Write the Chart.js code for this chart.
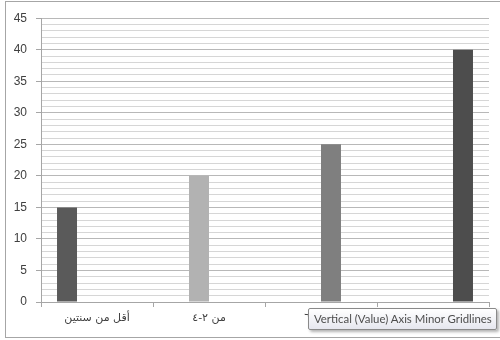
<!DOCTYPE html>
<html>
<head>
<meta charset="utf-8">
<script src="https://cdn.jsdelivr.net/npm/chart.js@4.4.1/dist/chart.umd.min.js"></script>
<style>
  html, body { margin: 0; padding: 0; background: #fff; }
  body { width: 500px; height: 340px; overflow: hidden; position: relative; }
  .frame {
    position: absolute; left: 5px; top: 1px;
    width: 500px; height: 335px;
    border: 1px solid #a6a6a6;
  }
  .frame canvas { display: block; }
  .hint {
    position: absolute; left: 308px; top: 308px;
    height: 20px; padding: 0 4px 0 5px;
    border: 1px solid #8a8a8a; border-radius: 2px;
    background: linear-gradient(#ffffff, #e6e7ef);
    box-shadow: 2px 2px 3px rgba(0, 0, 0, 0.3);
    font: 11.4px Lato, "Liberation Sans", sans-serif;
    line-height: 20px; color: #4d4d4d; white-space: nowrap;
  }
</style>
</head>
<body>
<div class="frame"><canvas id="chart" width="494" height="335"></canvas></div>
<div class="hint">Vertical (Value) Axis Minor Gridlines</div>
<script>
// categories and their values (one series per category, Excel-style clustered)
const categories = ['أقل من سنتين', 'من ٢-٤', 'من ٤-٦', 'أكثر من ٦'];
const values = [15, 20, 25, 40];
const barColors = ['#5a5a5a', '#b2b2b2', '#7f7f7f', '#4d4d4d'];

// value axis: labels every 5, minor gridlines every 1
const yMin = 0;
const yMax = 45;
const majorStep = 5;
const minorStep = 1;

const datasets = categories.map((name, i) => ({
  label: name,
  data: categories.map((_, j) => (j === i ? values[i] : null)),
  backgroundColor: barColors[i],
  borderWidth: 0,
  barPercentage: 1,
  categoryPercentage: 0.714,
}));

const isMajor = (v) => v % majorStep === 0;

const ctx = document.getElementById('chart').getContext('2d');
new Chart(ctx, {
  type: 'bar',
  data: { labels: categories, datasets: datasets },
  options: {
    responsive: false,
    animation: false,
    layout: { padding: { top: 15, right: 11, left: 0, bottom: 0 } },
    plugins: {
      legend: { display: false },
      tooltip: { enabled: false },
    },
    scales: {
      x: {
        afterFit(scale) { scale.height = 35; },
        border: { color: '#a6a6a6' },
        grid: {
          offset: true,
          drawOnChartArea: false,
          drawTicks: true,
          tickLength: 5,
          color: '#a6a6a6',
        },
        ticks: {
          padding: 5,
          maxRotation: 0,
          color: '#404040',
          font: { family: 'DejaVu Sans', size: 11 },
        },
      },
      y: {
        min: yMin,
        max: yMax,
        afterFit(scale) { scale.width = 35; },
        border: { color: '#a6a6a6' },
        grid: {
          tickLength: 5,
          color: (c) => (isMajor(c.tick.value) ? '#b8b8b8' : '#d6d6d6'),
          tickColor: (c) => (isMajor(c.tick.value) ? '#a6a6a6' : 'rgba(0,0,0,0)'),
        },
        ticks: {
          stepSize: minorStep,
          autoSkip: false,
          padding: 9,
          color: '#404040',
          font: { family: 'Liberation Sans', size: 12 },
          callback: (v) => (isMajor(v) ? v : ''),
        },
      },
    },
  },
});
</script>
</body>
</html>
